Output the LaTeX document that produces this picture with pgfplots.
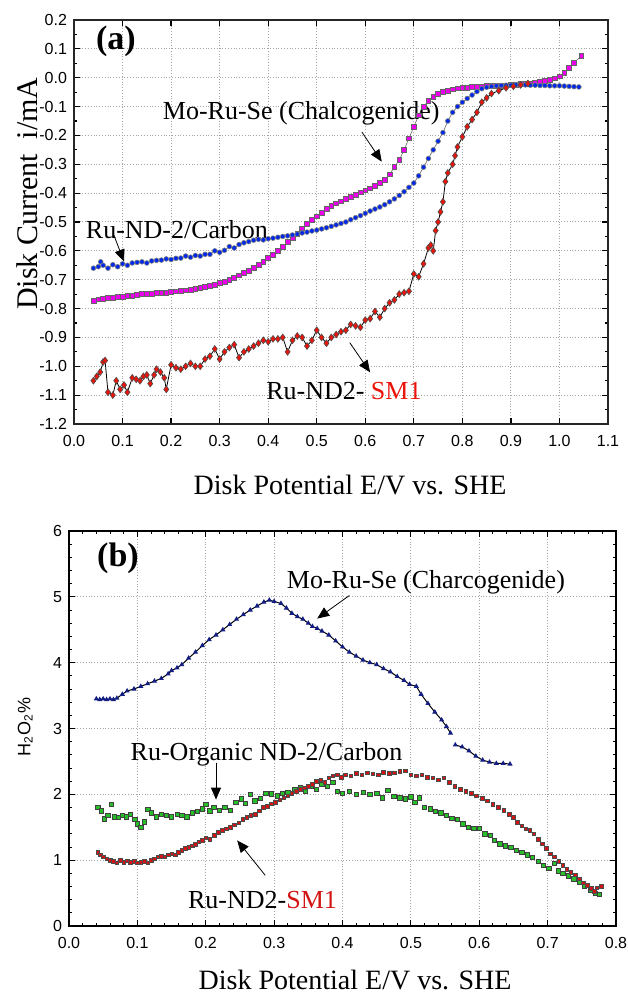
\documentclass[border=0pt]{standalone}
\usepackage{pgfplots}
\pgfplotsset{compat=1.18}
\usepackage{fontspec}
\setmainfont{Liberation Serif}
\newfontfamily\sansf{Liberation Sans}
\usetikzlibrary{arrows.meta}
\definecolor{magA}{RGB}{235,0,235}
\definecolor{blueA}{RGB}{0,40,235}
\definecolor{redA}{RGB}{235,20,10}
\definecolor{navyB}{RGB}{20,30,130}
\definecolor{greenB}{RGB}{40,190,40}
\definecolor{redB}{RGB}{210,20,20}
\pgfplotsset{
  mygrid/.style={grid=major, grid style={densely dotted, black!35, line width=0.5pt}},
}
\begin{document}
\begin{tikzpicture}
\path[use as bounding box] (0,0) rectangle (314pt,496.5pt);
% ---------------- panel (a) ----------------
\begin{axis}[
  at={(37pt,284.5pt)}, anchor=south west,
  scale only axis, width=267pt, height=202pt,
  xmin=0, xmax=1.1, ymin=-1.2, ymax=0.2,
  mygrid, clip=false,
  axis line style={line width=0.9pt, black!85},
  tick style={black, line width=0.6pt},
  major tick length=3pt, minor tick length=1.6pt,
  xtick={0,0.1,0.2,0.3,0.4,0.5,0.6,0.7,0.8,0.9,1.0,1.1},
  xticklabels={0.0,0.1,0.2,0.3,0.4,0.5,0.6,0.7,0.8,0.9,1.0,1.1},
  ytick={-1.2,-1.1,-1.0,-0.9,-0.8,-0.7,-0.6,-0.5,-0.4,-0.3,-0.2,-0.1,0,0.1,0.2},
  yticklabels={-1.2,-1.1,-1.0,-0.9,-0.8,-0.7,-0.6,-0.5,-0.4,-0.3,-0.2,-0.1,0.0,0.1,0.2},
  minor y tick num=1,
  ticklabel style={font=\sansf\fontsize{8}{9}\selectfont},
  xticklabel style={yshift=-2pt},
  xlabel={Disk Potential E/V vs. SHE},
  xlabel style={at={(axis description cs:0.517,-0.151)}, anchor=center, font=\fontsize{14}{16}\selectfont},
  ylabel={Disk Current~~i/mA},
  ylabel style={at={(axis description cs:-0.088,0.57)}, anchor=center, font=\fontsize{15}{17}\selectfont},
]
% Mo-Ru-Se (magenta squares)
\addplot[black!60, line width=0.3pt, mark=square*, mark size=1.2pt, mark options={fill=magA, draw=black!60, line width=0.3pt}] coordinates {
(0.04,-0.772)(0.05,-0.768)(0.06,-0.765)(0.07,-0.764)(0.08,-0.762)(0.09,-0.760)(0.10,-0.758)(0.11,-0.757)(0.12,-0.755)(0.13,-0.752)(0.14,-0.750)(0.15,-0.749)(0.16,-0.748)(0.17,-0.746)(0.18,-0.745)(0.19,-0.744)(0.20,-0.742)(0.21,-0.740)(0.22,-0.738)(0.23,-0.737)(0.24,-0.735)(0.25,-0.731)(0.26,-0.728)(0.27,-0.725)(0.28,-0.722)(0.29,-0.717)(0.30,-0.712)(0.31,-0.706)(0.32,-0.700)(0.33,-0.693)(0.34,-0.685)(0.35,-0.677)(0.36,-0.668)(0.37,-0.658)(0.38,-0.648)(0.39,-0.637)(0.40,-0.625)(0.41,-0.613)(0.42,-0.600)(0.43,-0.585)(0.44,-0.570)(0.45,-0.555)(0.46,-0.540)(0.47,-0.522)(0.48,-0.505)(0.49,-0.492)(0.50,-0.480)(0.51,-0.467)(0.52,-0.455)(0.53,-0.445)(0.54,-0.435)(0.55,-0.428)(0.56,-0.420)(0.57,-0.412)(0.58,-0.405)(0.59,-0.397)(0.60,-0.390)(0.61,-0.383)(0.62,-0.375)(0.63,-0.365)(0.64,-0.355)(0.65,-0.335)(0.66,-0.310)(0.67,-0.285)(0.68,-0.250)(0.69,-0.210)(0.70,-0.170)(0.71,-0.130)(0.72,-0.100)(0.73,-0.080)(0.74,-0.065)(0.75,-0.055)(0.76,-0.048)(0.77,-0.044)(0.78,-0.040)(0.79,-0.037)(0.80,-0.035)(0.81,-0.034)(0.82,-0.032)(0.83,-0.031)(0.84,-0.030)(0.85,-0.029)(0.86,-0.028)(0.87,-0.028)(0.88,-0.027)(0.89,-0.026)(0.90,-0.025)(0.91,-0.024)(0.92,-0.022)(0.93,-0.021)(0.94,-0.020)(0.95,-0.018)(0.96,-0.015)(0.97,-0.012)(0.98,-0.008)(0.99,-0.002)(1.00,0.005)(1.01,0.018)(1.02,0.035)(1.03,0.052)(1.045,0.075)
};
% Ru-ND-2/Carbon (blue)
\addplot[black!60, line width=0.3pt, mark=*, mark size=1.2pt, mark options={fill=blueA, draw=black!50, line width=0.3pt}] coordinates {
(0.04,-0.660)(0.05,-0.655)(0.055,-0.638)(0.06,-0.650)(0.07,-0.660)(0.08,-0.648)(0.09,-0.655)(0.10,-0.645)(0.11,-0.650)(0.12,-0.642)(0.13,-0.640)(0.14,-0.638)(0.15,-0.642)(0.16,-0.635)(0.17,-0.633)(0.18,-0.632)(0.19,-0.628)(0.20,-0.630)(0.21,-0.626)(0.22,-0.625)(0.23,-0.618)(0.24,-0.622)(0.25,-0.616)(0.26,-0.618)(0.27,-0.612)(0.28,-0.612)(0.29,-0.600)(0.30,-0.605)(0.31,-0.598)(0.32,-0.585)(0.33,-0.590)(0.34,-0.578)(0.35,-0.572)(0.36,-0.568)(0.37,-0.563)(0.38,-0.560)(0.39,-0.562)(0.40,-0.558)(0.41,-0.556)(0.42,-0.553)(0.43,-0.550)(0.44,-0.548)(0.45,-0.545)(0.46,-0.542)(0.47,-0.538)(0.48,-0.535)(0.49,-0.531)(0.50,-0.528)(0.51,-0.524)(0.52,-0.520)(0.53,-0.515)(0.54,-0.510)(0.55,-0.505)(0.56,-0.500)(0.57,-0.492)(0.58,-0.485)(0.59,-0.478)(0.60,-0.470)(0.61,-0.462)(0.62,-0.455)(0.63,-0.448)(0.64,-0.440)(0.65,-0.430)(0.66,-0.420)(0.67,-0.408)(0.68,-0.395)(0.69,-0.380)(0.70,-0.365)(0.71,-0.340)(0.72,-0.310)(0.73,-0.280)(0.74,-0.250)(0.75,-0.220)(0.76,-0.190)(0.77,-0.150)(0.78,-0.120)(0.79,-0.100)(0.80,-0.085)(0.81,-0.072)(0.82,-0.060)(0.83,-0.048)(0.84,-0.038)(0.85,-0.033)(0.86,-0.030)(0.87,-0.028)(0.88,-0.027)(0.89,-0.026)(0.90,-0.026)(0.91,-0.025)(0.92,-0.025)(0.93,-0.025)(0.94,-0.026)(0.95,-0.026)(0.96,-0.027)(0.97,-0.027)(0.98,-0.028)(0.99,-0.028)(1.00,-0.028)(1.01,-0.029)(1.02,-0.030)(1.03,-0.031)(1.04,-0.032)
};
% Ru-ND2-SM1 (red diamonds)
\addplot[black, line width=0.4pt, mark=diamond*, mark size=1.7pt, mark options={fill=redA, draw=black!70, line width=0.3pt}] coordinates {
(0.04,-1.05)(0.047,-1.035)(0.054,-1.02)(0.06,-0.985)(0.064,-0.98)(0.07,-1.09)(0.08,-1.10)(0.087,-1.05)(0.095,-1.08)(0.103,-1.065)(0.11,-1.09)(0.12,-1.04)(0.128,-1.045)(0.136,-1.05)(0.143,-1.035)(0.15,-1.03)(0.157,-1.06)(0.165,-1.03)(0.17,-1.01)(0.178,-1.02)(0.186,-1.04)(0.19,-1.08)(0.2,-0.995)(0.21,-1.005)(0.22,-1.01)(0.23,-1.0)(0.24,-0.99)(0.25,-1.0)(0.26,-1.0)(0.27,-0.975)(0.28,-0.965)(0.29,-0.94)(0.30,-0.975)(0.31,-0.95)(0.32,-0.935)(0.33,-0.925)(0.34,-0.97)(0.35,-0.95)(0.36,-0.94)(0.37,-0.93)(0.38,-0.92)(0.39,-0.91)(0.40,-0.915)(0.41,-0.905)(0.42,-0.905)(0.43,-0.90)(0.44,-0.95)(0.45,-0.91)(0.46,-0.895)(0.47,-0.90)(0.48,-0.93)(0.49,-0.91)(0.50,-0.875)(0.51,-0.90)(0.52,-0.92)(0.53,-0.90)(0.54,-0.89)(0.55,-0.88)(0.56,-0.875)(0.57,-0.855)(0.58,-0.86)(0.59,-0.865)(0.60,-0.84)(0.61,-0.835)(0.62,-0.81)(0.63,-0.83)(0.64,-0.80)(0.65,-0.78)(0.66,-0.77)(0.67,-0.75)(0.68,-0.745)(0.69,-0.74)(0.70,-0.68)(0.71,-0.69)(0.72,-0.645)(0.73,-0.59)(0.735,-0.58)(0.74,-0.60)(0.745,-0.53)(0.75,-0.50)(0.755,-0.465)(0.76,-0.43)(0.765,-0.36)(0.77,-0.33)(0.78,-0.30)(0.785,-0.27)(0.79,-0.24)(0.80,-0.205)(0.81,-0.17)(0.82,-0.145)(0.83,-0.12)(0.84,-0.085)(0.85,-0.07)(0.86,-0.055)(0.875,-0.045)(0.89,-0.035)(0.905,-0.03)(0.92,-0.025)(0.935,-0.02)
};
\node[font=\bfseries\fontsize{17}{19}\selectfont] at (axis cs:0.0865,0.127) {(a)};
\node[font=\fontsize{13}{15}\selectfont] at (axis cs:0.468,-0.122) {Mo-Ru-Se (Chalcogenide)};
\draw[line width=0.4pt, -{Triangle[length=6pt,width=5pt]}] (axis cs:0.593,-0.188) -- (axis cs:0.634,-0.291);
\node[font=\fontsize{13}{15}\selectfont] at (axis cs:0.212,-0.527) {Ru-ND-2/Carbon};
\draw[line width=0.4pt, -{Triangle[length=6pt,width=5pt]}] (axis cs:0.082,-0.545) -- (axis cs:0.103,-0.637);
\node[font=\fontsize{13}{15}\selectfont] at (axis cs:0.556,-1.087) {Ru-ND2- \textcolor{redA}{SM1}};
\draw[line width=0.4pt, -{Triangle[length=6pt,width=5pt]}] (axis cs:0.568,-0.918) -- (axis cs:0.610,-1.021);
\end{axis}
% ---------------- panel (b) ----------------
\begin{axis}[
  at={(34.5pt,33.5pt)}, anchor=south west,
  scale only axis, width=273.5pt, height=197.5pt,
  xmin=0, xmax=0.8, ymin=0, ymax=6,
  mygrid, clip=false,
  axis line style={line width=0.7pt, black},
  tick style={black, line width=0.5pt},
  major tick length=3pt, minor tick length=1.6pt,
  xtick={0,0.1,0.2,0.3,0.4,0.5,0.6,0.7,0.8},
  xticklabels={0.0,0.1,0.2,0.3,0.4,0.5,0.6,0.7,0.8},
  ytick={0,1,2,3,4,5,6},
  yticklabels={0,1,2,3,4,5,6},
  minor x tick num=4, minor y tick num=4,
  ticklabel style={font=\sansf\fontsize{8}{9}\selectfont},
  xticklabel style={yshift=-2pt},
  xlabel={Disk Potential E/V vs. SHE},
  xlabel style={at={(axis description cs:0.523,-0.137)}, anchor=center, font=\fontsize{14}{16}\selectfont},
  ylabel={H\textsubscript{2}O\textsubscript{2}\%},
  ylabel style={at={(axis description cs:-0.080,0.504)}, anchor=center, font=\sansf\fontsize{9}{10}\selectfont},
]
% Mo-Ru-Se (navy)
\addplot[black, line width=0.5pt, mark=triangle*, mark size=1.0pt, mark options={fill=navyB, draw=navyB}] coordinates {
(0.040,3.45)(0.045,3.44)(0.050,3.45)(0.055,3.44)(0.060,3.45)(0.065,3.44)(0.070,3.46)(0.078,3.52)(0.085,3.57)(0.095,3.60)(0.105,3.64)(0.115,3.68)(0.125,3.72)(0.135,3.76)(0.145,3.83)(0.150,3.88)(0.158,3.92)(0.165,3.97)(0.175,4.07)(0.185,4.16)(0.195,4.26)(0.205,4.35)(0.215,4.42)(0.225,4.50)(0.235,4.58)(0.245,4.66)(0.255,4.73)(0.265,4.80)(0.275,4.86)(0.285,4.92)(0.293,4.95)(0.300,4.93)(0.310,4.90)(0.318,4.83)(0.326,4.75)(0.334,4.70)(0.342,4.66)(0.350,4.60)(0.356,4.55)(0.363,4.52)(0.370,4.48)(0.380,4.42)(0.390,4.33)(0.400,4.24)(0.410,4.16)(0.420,4.10)(0.430,4.04)(0.440,4.00)(0.450,3.97)(0.460,3.91)(0.470,3.86)(0.480,3.79)(0.490,3.73)(0.498,3.67)(0.508,3.64)(0.515,3.52)(0.525,3.38)(0.535,3.25)(0.545,3.13)(0.552,3.03)(0.558,2.93)
};
\addplot[black, line width=0.5pt, mark=triangle*, mark size=1.0pt, mark options={fill=navyB, draw=navyB}] coordinates {
(0.565,2.75)(0.575,2.72)(0.585,2.66)(0.595,2.58)(0.605,2.52)(0.615,2.49)(0.625,2.47)(0.635,2.47)(0.645,2.46)
};
% Ru-Organic ND-2/Carbon (green squares)
\addplot[only marks, mark=square*, mark size=1.1pt, mark options={fill=greenB, draw=black!75, line width=0.3pt}] coordinates {
(0.042,1.80)(0.047,1.75)(0.052,1.63)(0.057,1.68)(0.062,1.85)(0.066,1.66)(0.072,1.65)(0.078,1.68)(0.084,1.66)(0.090,1.70)(0.096,1.62)(0.100,1.55)(0.105,1.50)(0.110,1.58)(0.115,1.77)(0.120,1.72)(0.128,1.66)(0.135,1.70)(0.142,1.68)(0.150,1.66)(0.158,1.70)(0.165,1.68)(0.172,1.66)(0.180,1.72)(0.188,1.74)(0.195,1.78)(0.200,1.85)(0.206,1.75)(0.212,1.80)(0.220,1.76)(0.228,1.80)(0.236,1.76)(0.244,1.88)(0.252,1.93)(0.258,1.86)(0.265,2.00)(0.272,1.90)(0.280,1.94)(0.288,2.02)(0.296,2.01)(0.305,1.98)(0.312,2.02)(0.320,2.03)(0.330,2.08)(0.338,2.10)(0.346,2.05)(0.354,2.12)(0.362,2.08)(0.370,2.15)(0.378,2.12)(0.386,2.18)(0.392,2.05)(0.400,2.02)(0.410,2.05)(0.420,2.00)(0.430,2.03)(0.440,2.00)(0.450,2.02)(0.458,1.95)(0.466,2.06)(0.475,1.97)(0.484,1.95)(0.492,1.93)(0.500,1.96)(0.506,1.88)(0.512,1.95)(0.520,1.80)(0.528,1.78)(0.536,1.74)(0.544,1.72)(0.552,1.68)(0.560,1.64)(0.568,1.62)(0.576,1.55)(0.584,1.50)(0.592,1.48)(0.600,1.48)(0.608,1.40)(0.616,1.38)(0.622,1.30)(0.630,1.25)(0.638,1.22)(0.646,1.20)(0.654,1.15)(0.662,1.12)(0.670,1.08)(0.678,1.04)(0.686,0.98)(0.694,0.92)(0.702,0.88)(0.710,0.95)(0.716,0.84)(0.722,0.80)(0.730,0.76)(0.738,0.72)(0.746,0.66)(0.754,0.60)(0.762,0.55)(0.770,0.50)(0.776,0.48)
};
% Ru-ND2-SM1 (red)
\addplot[only marks, mark=square*, mark size=0.9pt, mark options={fill=redB, draw=black!70, line width=0.25pt}] coordinates {
(0.042,1.12)(0.046,1.08)(0.050,1.05)(0.055,1.02)(0.060,1.00)(0.065,0.98)(0.070,0.96)(0.075,1.00)(0.080,0.97)(0.085,0.99)(0.090,0.97)(0.095,0.98)(0.100,0.96)(0.105,0.97)(0.110,0.98)(0.115,0.96)(0.120,1.00)(0.125,1.02)(0.130,1.05)(0.135,1.06)(0.140,1.05)(0.145,1.08)(0.150,1.10)(0.155,1.08)(0.160,1.12)(0.165,1.15)(0.170,1.18)(0.175,1.20)(0.180,1.22)(0.185,1.24)(0.190,1.28)(0.195,1.30)(0.200,1.34)(0.206,1.32)(0.212,1.38)(0.218,1.42)(0.224,1.45)(0.230,1.48)(0.236,1.50)(0.242,1.54)(0.248,1.57)(0.254,1.62)(0.260,1.65)(0.266,1.68)(0.272,1.70)(0.278,1.75)(0.284,1.80)(0.290,1.82)(0.296,1.86)(0.302,1.88)(0.308,1.92)(0.314,1.95)(0.320,1.98)(0.326,2.02)(0.332,2.05)(0.338,2.08)(0.344,2.10)(0.350,2.12)(0.356,2.15)(0.362,2.20)(0.368,2.22)(0.374,2.18)(0.380,2.25)(0.386,2.28)(0.392,2.30)(0.398,2.26)(0.404,2.30)(0.412,2.28)(0.420,2.32)(0.428,2.30)(0.436,2.33)(0.444,2.31)(0.452,2.30)(0.460,2.34)(0.468,2.32)(0.476,2.33)(0.484,2.35)(0.492,2.36)(0.500,2.30)(0.508,2.28)(0.516,2.30)(0.524,2.26)(0.532,2.25)(0.540,2.22)(0.548,2.25)(0.556,2.18)(0.564,2.12)(0.572,2.08)(0.580,2.05)(0.588,2.02)(0.596,1.98)(0.604,1.94)(0.612,1.90)(0.620,1.85)(0.628,1.80)(0.636,1.76)(0.644,1.70)(0.650,1.65)(0.656,1.58)(0.662,1.52)(0.668,1.48)(0.674,1.45)(0.680,1.40)(0.686,1.32)(0.692,1.25)(0.698,1.18)(0.704,1.10)(0.710,1.05)(0.716,0.98)(0.722,0.92)(0.728,0.86)(0.734,0.82)(0.740,0.78)(0.746,0.72)(0.752,0.66)(0.758,0.62)(0.764,0.57)(0.768,0.53)(0.772,0.58)(0.778,0.60)
};
\node[font=\bfseries\fontsize{17}{19}\selectfont] at (axis cs:0.0717,5.59) {(b)};
\node[font=\fontsize{13}{15}\selectfont] at (axis cs:0.522,5.22) {Mo-Ru-Se (Charcogenide)};
\draw[line width=0.4pt, -{Triangle[length=6pt,width=5pt]}] (axis cs:0.41,5.02) -- (axis cs:0.363,4.67);
\node[font=\fontsize{13}{15}\selectfont] at (axis cs:0.289,2.61) {Ru-Organic ND-2/Carbon};
\draw[line width=0.4pt, -{Triangle[length=6pt,width=5pt]}] (axis cs:0.215,2.48) -- (axis cs:0.215,1.92);
\node[font=\fontsize{13}{15}\selectfont] at (axis cs:0.283,0.40) {Ru-ND2-\textcolor{redB}{SM1}};
\draw[line width=0.4pt, -{Triangle[length=6pt,width=5pt]}] (axis cs:0.287,0.77) -- (axis cs:0.246,1.30);
\end{axis}
\end{tikzpicture}
\end{document}
